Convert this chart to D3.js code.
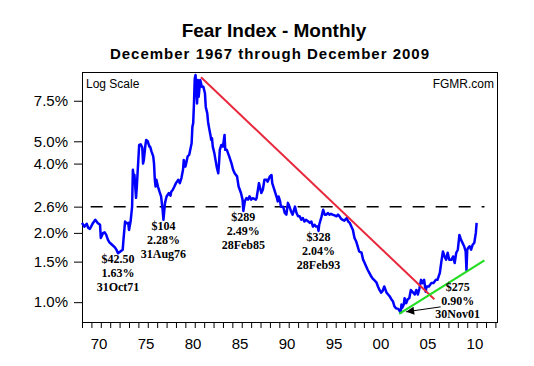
<!DOCTYPE html>
<html>
<head>
<meta charset="utf-8">
<script src="https://cdnjs.cloudflare.com/ajax/libs/d3/7.8.5/d3.min.js"></script>
<style>
  body { margin: 0; background: #fff; }
  .axis text { font-family: "Liberation Sans", Arial, sans-serif; fill: #000; }
  .note { font-family: "Liberation Serif", "Times New Roman", serif; font-weight: bold; font-size: 12px; }
</style>
</head>
<body>
<div id="chart"></div>
<script>
// monthly fear index (%)
const months = [
  "1967-12","1968-03","1968-06","1968-08","1968-10","1969-02","1969-05","1969-08","1969-11","1969-12",
  "1970-03","1970-05","1970-07","1970-09","1970-11","1971-02","1971-06","1971-08","1971-10","1972-01",
  "1972-04","1972-05","1972-07","1972-09","1972-11","1972-12","1973-02","1973-04","1973-05","1973-06",
  "1973-07","1973-08","1973-09","1973-10","1974-01","1974-03","1974-05","1974-06","1974-07","1974-09",
  "1974-10","1974-12","1975-02","1975-03","1975-05","1975-07","1975-08","1975-09","1975-10","1975-11",
  "1976-01","1976-03","1976-05","1976-07","1976-08","1976-10","1976-12","1977-03","1977-05","1977-06",
  "1977-08","1977-10","1977-12","1978-03","1978-05","1978-07","1978-09","1978-10","1978-12","1979-01",
  "1979-03","1979-05","1979-08","1979-09","1979-10","1979-11","1979-12","1980-01","1980-03","1980-04",
  "1980-05","1980-07","1980-08","1980-09","1980-11","1981-01","1981-02","1981-04","1981-05","1981-06",
  "1981-08","1981-09","1981-10","1981-11","1982-01","1982-04","1982-06","1982-07","1982-08","1982-10",
  "1982-12","1983-02","1983-03","1983-05","1983-08","1983-11","1984-01","1984-03","1984-06","1984-08",
  "1984-11","1985-01","1985-02","1985-04","1985-06","1985-08","1985-10","1985-12","1986-02","1986-06",
  "1986-07","1986-10","1986-11","1987-01","1987-03","1987-05","1987-08","1987-09","1987-12","1988-02",
  "1988-03","1988-05","1988-07","1988-09","1988-10","1988-11","1989-01","1989-02","1989-05","1989-07",
  "1989-09","1989-11","1990-01","1990-03","1990-05","1990-08","1990-10","1990-12","1991-02","1991-04",
  "1991-06","1991-08","1991-10","1992-01","1992-03","1992-05","1992-07","1992-09","1992-11","1993-01",
  "1993-02","1993-03","1993-06","1993-08","1993-10","1993-12","1994-02","1994-04","1994-06","1994-08",
  "1994-11","1995-01","1995-03","1995-05","1995-07","1995-09","1995-11","1996-02","1996-04","1996-06",
  "1996-08","1996-10","1996-12","1997-02","1997-04","1997-06","1997-09","1997-11","1998-01","1998-03",
  "1998-05","1998-07","1998-09","1998-11","1999-01","1999-04","1999-06","1999-08","1999-10","1999-12",
  "2000-02","2000-05","2000-07","2000-09","2000-11","2001-01","2001-03","2001-05","2001-08","2001-11",
  "2001-12","2002-01","2002-03","2002-04","2002-06","2002-08","2002-10","2002-12","2003-03","2003-05",
  "2003-07","2003-09","2003-11","2004-01","2004-03","2004-05","2004-07","2004-08","2004-11","2005-02",
  "2005-05","2005-08","2005-10","2006-01","2006-03","2006-05","2006-07","2006-09","2006-11","2007-01",
  "2007-04","2007-06","2007-08","2007-10","2007-12","2008-02","2008-04","2008-06","2008-08","2008-10",
  "2008-11","2008-12","2009-01","2009-03","2009-05","2009-07","2009-09","2009-11","2009-12"
];
const fearPct = [
  2.21,2.13,2.19,2.10,2.08,2.21,2.28,2.21,2.17,1.90,
  2.00,2.01,1.96,1.87,1.82,1.78,1.73,1.69,1.63,1.66,
  1.69,1.87,2.24,2.20,2.21,2.06,2.24,2.60,3.76,3.52,
  3.57,3.18,2.84,3.18,4.82,4.85,4.70,4.00,4.15,4.82,
  5.07,5.00,4.74,4.74,4.50,4.30,4.00,3.40,3.18,3.40,
  3.18,3.02,2.88,2.52,2.28,2.70,2.88,2.98,2.90,3.02,
  3.08,3.18,3.29,3.40,3.29,3.46,3.76,4.15,3.88,4.00,
  4.30,4.37,4.90,5.79,5.98,7.30,9.37,9.70,7.30,9.23,
  7.80,9.23,8.93,8.62,8.62,8.08,7.05,6.61,6.08,5.79,
  5.33,5.07,5.16,4.74,4.44,3.88,3.63,4.00,4.59,4.82,
  4.74,5.33,4.59,4.59,4.30,4.00,3.76,3.63,3.52,3.18,
  2.98,2.79,2.49,2.75,2.83,2.79,2.88,2.79,2.83,2.79,
  2.83,3.29,3.18,2.98,3.08,3.40,3.40,3.34,3.52,3.57,
  3.29,3.13,2.98,2.83,2.74,2.88,2.74,2.60,2.60,2.44,
  2.40,2.70,2.60,2.48,2.40,2.60,2.44,2.36,2.36,2.28,
  2.32,2.24,2.28,2.24,2.21,2.24,2.13,2.17,2.13,2.13,
  2.04,2.17,2.36,2.52,2.40,2.40,2.44,2.40,2.42,2.40,
  2.38,2.36,2.40,2.36,2.30,2.28,2.26,2.32,2.24,2.21,
  2.13,2.06,1.90,1.84,1.75,1.66,1.64,1.53,1.48,1.43,
  1.38,1.34,1.30,1.27,1.25,1.22,1.17,1.13,1.10,1.12,
  1.17,1.10,1.08,1.06,1.03,1.01,0.96,0.94,0.935,0.90,
  0.976,0.945,0.976,1.04,0.99,1.03,1.04,1.13,1.10,1.08,
  1.13,1.08,1.15,1.25,1.21,1.25,1.11,1.17,1.17,1.21,
  1.21,1.25,1.25,1.34,1.50,1.66,1.58,1.53,1.64,1.53,
  1.53,1.58,1.48,1.64,1.69,1.96,1.87,1.81,1.75,1.66,
  1.38,1.69,1.72,1.75,1.69,1.78,1.81,2.00,2.21
];

const yTicks = [1.0, 1.5, 2.0, 2.6, 4.0, 5.0, 7.5];
const yearLabels = [1970, 1975, 1980, 1985, 1990, 1995, 2000, 2005, 2010];

const redTrend = [["1980-08", 9.48], ["2005-06", 1.03]];
const greenTrend = [["2001-09", 0.89], ["2010-10", 1.52]];
const fearLevel = 2.6;
const levelSpan = ["1968-11", "2010-10"];

const lows = [
  {month: "1971-10", value: 1.63, text: ["$42.50", "1.63%", "31Oct71"]},
  {month: "1976-08", value: 2.28, text: ["$104", "2.28%", "31Aug76"]},
  {month: "1985-02", value: 2.49, text: ["$289", "2.49%", "28Feb85"]},
  {month: "1993-02", value: 2.04, text: ["$328", "2.04%", "28Feb93"]}
];
const lastLow = {text: ["$275", "0.90%", "30Nov01"], at: ["2006-02", 1.0]};
const arrow = [["2006-02", 0.954], ["2002-06", 0.908]];

const parse = d3.timeParse("%Y-%m");
const width = 534, height = 366;
const margin = {top: 72, right: 37, bottom: 44, left: 82};
const innerWidth = width - margin.left - margin.right;
const innerHeight = height - margin.top - margin.bottom;

const svg = d3.select("#chart").append("svg")
  .attr("width", width)
  .attr("height", height)
  .style("background", "#fff");

svg.append("text")
  .attr("x", 274).attr("y", 37)
  .attr("text-anchor", "middle")
  .style("font-family", "'Liberation Sans', Arial, sans-serif")
  .style("font-weight", "bold").style("font-size", "19px")
  .text("Fear Index - Monthly");
svg.append("text")
  .attr("x", 270).attr("y", 59)
  .attr("text-anchor", "middle")
  .style("font-family", "'Liberation Sans', Arial, sans-serif")
  .style("font-weight", "bold").style("font-size", "15px")
  .style("letter-spacing", "1px")
  .text("December 1967 through December 2009");

const g = svg.append("g").attr("transform", `translate(${margin.left},${margin.top})`);

const x = d3.scaleTime()
  .domain([parse("1967-12"), parse("2012-02")])
  .range([0, innerWidth]);
const y = d3.scaleLog()
  .domain([0.82, 10])
  .range([innerHeight, 0]);

// yearly ticks start at Dec 1967
const tickDates = d3.range(0, 45).map(i => new Date(1967 + i, 11, 1));
g.append("g")
  .attr("transform", `translate(0,${innerHeight})`)
  .call(d3.axisBottom(x).tickValues(tickDates).tickSize(6).tickSizeOuter(0))
  .call(a => a.select(".domain").remove())
  .call(a => a.selectAll("text").remove());
g.append("g")
  .attr("class", "axis")
  .attr("transform", `translate(0,${innerHeight})`)
  .call(d3.axisBottom(x).tickValues(yearLabels.map(yr => new Date(yr, 0, 1)))
    .tickFormat(d3.timeFormat("%y")).tickSize(0).tickPadding(16))
  .call(a => a.select(".domain").remove())
  .selectAll("text").attr("dx", -3).style("font-size", "15px");

g.append("g")
  .attr("class", "axis")
  .call(d3.axisLeft(y).tickValues(yTicks).tickFormat(d => d.toFixed(1) + "%").tickSize(8).tickPadding(6))
  .call(a => a.select(".domain").remove())
  .selectAll("text").style("font-size", "15px");

g.append("rect")
  .attr("x", 0.5).attr("y", 0.5)
  .attr("width", innerWidth).attr("height", innerHeight)
  .attr("fill", "none").attr("stroke", "#000");

g.append("text").attr("x", 4).attr("y", 16)
  .style("font-family", "'Liberation Sans', Arial, sans-serif").style("font-size", "12px")
  .text("Log Scale");
g.append("text").attr("x", innerWidth - 3).attr("y", 16)
  .attr("text-anchor", "end")
  .style("font-family", "'Liberation Sans', Arial, sans-serif").style("font-size", "12px")
  .text("FGMR.com");

g.append("line")
  .attr("x1", x(parse(levelSpan[0]))).attr("x2", x(parse(levelSpan[1])))
  .attr("y1", y(fearLevel)).attr("y2", y(fearLevel))
  .attr("stroke", "#000").attr("stroke-width", 1.5)
  .attr("stroke-dasharray", "12,11");

const series = months.map((m, i) => ({date: parse(m), value: fearPct[i]}));
const line = d3.line().x(d => x(d.date)).y(d => y(d.value));

g.append("path")
  .datum(series)
  .attr("fill", "none")
  .attr("stroke", "#0000ff")
  .attr("stroke-width", 2.5)
  .attr("stroke-linejoin", "round")
  .attr("d", line);

const trendLine = d3.line().x(d => x(parse(d[0]))).y(d => y(d[1]));
g.append("path").datum(redTrend)
  .attr("fill", "none").attr("stroke", "#e8283c").attr("stroke-width", 2)
  .attr("d", trendLine);
g.append("path").datum(greenTrend)
  .attr("fill", "none").attr("stroke", "#22dd22").attr("stroke-width", 2.2)
  .attr("d", trendLine);

lows.forEach(low => {
  const t = g.append("text").attr("class", "note")
    .attr("text-anchor", "middle")
    .attr("x", x(parse(low.month)))
    .attr("y", y(low.value) + 10);
  low.text.forEach((s, i) => {
    t.append("tspan").attr("x", x(parse(low.month))).attr("dy", i === 0 ? 0 : 14).text(s);
  });
});

const lt = g.append("text").attr("class", "note")
  .attr("text-anchor", "middle")
  .attr("x", x(parse(lastLow.at[0])) + 17)
  .attr("y", y(lastLow.at[1]) - 11);
lastLow.text.forEach((s, i) => {
  lt.append("tspan").attr("x", x(parse(lastLow.at[0])) + 17).attr("dy", i === 0 ? 0 : 13.5).text(s);
});

svg.append("defs").append("marker")
  .attr("id", "head")
  .attr("viewBox", "0 0 10 10")
  .attr("refX", 10).attr("refY", 5)
  .attr("markerWidth", 15).attr("markerHeight", 8)
  .attr("markerUnits", "userSpaceOnUse")
  .attr("orient", "auto")
  .append("path").attr("d", "M0,0L10,5L0,10Z").attr("fill", "#000");

g.append("path").datum(arrow)
  .attr("fill", "none").attr("stroke", "#000").attr("stroke-width", 1)
  .attr("marker-end", "url(#head)")
  .attr("d", trendLine);
</script>
</body>
</html>
